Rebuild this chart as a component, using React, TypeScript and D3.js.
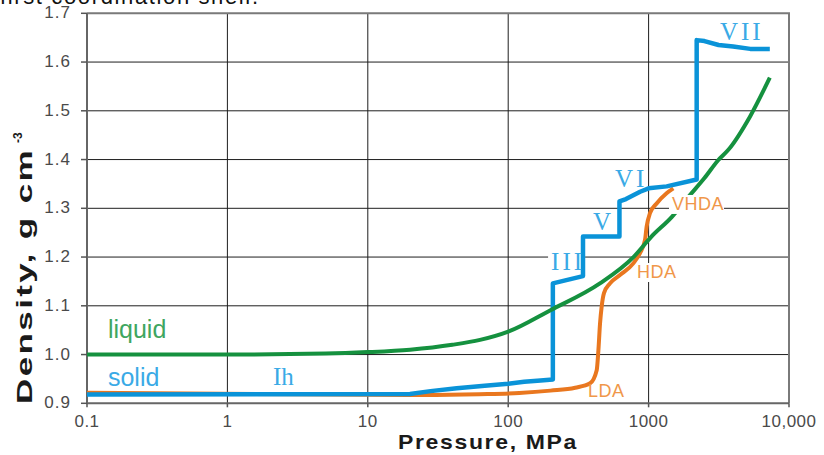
import React, { useEffect, useRef } from 'react';
import * as d3 from 'd3';

// axis ticks
const pressureTicks = [0.1, 1, 10, 100, 1000, 10000];
const pressureTickLabels = ['0.1', '1', '10', '100', '1000', '10,000'];
const densityTicks = [0.9, 1.0, 1.1, 1.2, 1.3, 1.4, 1.5, 1.6, 1.7];
const densityTickLabels = ['0.9', '1.0', '1.1', '1.2', '1.3', '1.4', '1.5', '1.6', '1.7'];

// liquid water
const liquidPressure = [0.1, 1, 5, 10, 20, 40, 63, 100, 200, 450, 780, 1040, 1460, 1970, 2500, 3140, 3700, 5270, 7300];
const liquidDensity = [1.0, 1.0, 1.002, 1.005, 1.01, 1.02, 1.03, 1.047, 1.091, 1.146, 1.2, 1.241, 1.282, 1.327, 1.362, 1.399, 1.42, 1.488, 1.568];

// crystalline ice (Ih, III, V, VI, VII)
const solidPressure = [0.1, 20, 28, 43, 68, 100, 130, 170, 208, 208, 341, 341, 620, 620, 690, 870, 1000, 1345, 2200, 2200, 2500, 3150, 4000, 5300, 7300];
const solidDensity = [0.918, 0.919, 0.925, 0.931, 0.936, 0.94, 0.944, 0.947, 0.949, 1.146, 1.161, 1.242, 1.242, 1.314, 1.319, 1.334, 1.341, 1.345, 1.359, 1.645, 1.643, 1.635, 1.632, 1.627, 1.627];

// amorphous ice (LDA -> HDA -> VHDA)
const amorphousPressure = [0.1, 25, 62, 120, 200, 300, 383, 427, 439, 451, 463, 481, 531, 625, 778, 868, 943, 968, 1023, 1141, 1343, 1500];
const amorphousDensity = [0.9215, 0.917, 0.9185, 0.921, 0.926, 0.932, 0.941, 0.968, 1.009, 1.064, 1.098, 1.126, 1.146, 1.163, 1.187, 1.208, 1.235, 1.262, 1.29, 1.31, 1.331, 1.341];

// annotations: text, anchor pressure, anchor density, style
const labelText = ['liquid', 'solid', 'Ih', 'III', 'V', 'VI', 'VII', 'VHDA', 'HDA', 'LDA'];
const labelPressure = [0.141, 0.141, 2.11, 202, 402, 577, 3220, 1468, 827, 370];
const labelDensity = [1.034, 0.9345, 0.9375, 1.1735, 1.2556, 1.3437, 1.645, 1.2966, 1.157, 0.913];
const labelKind = ['liquid', 'solid', 'roman', 'roman', 'roman', 'roman', 'roman', 'amorph', 'amorph', 'amorph'];

const BLUE = '#0a93d8';
const GREEN = '#15913f';
const ORANGE = '#e9771f';

function App() {
  const ref = useRef<SVGSVGElement>(null);

  useEffect(() => {
    const svg = d3.select(ref.current);
    svg.selectAll('*').remove();

    const x = d3.scaleLog().domain([0.1, 10000]).range([87, 789]);
    const y = d3.scaleLinear().domain([0.9, 1.7]).range([403.3, 13.3]);
    const sans = '"Liberation Sans", Arial, sans-serif';

    // cropped caption from the page above
    svg.append('text')
      .attr('x', 0).attr('y', 4)
      .attr('textLength', 258)
      .style('font-family', sans).style('font-size', '22px').style('fill', '#111')
      .text('first coordination shell.');

    // grid
    const grid = svg.append('g');
    grid.selectAll('line.h')
      .data(densityTicks.slice(1, -1))
      .join('line')
      .attr('x1', x(0.1)).attr('x2', x(10000))
      .attr('y1', d => y(d)).attr('y2', d => y(d))
      .attr('stroke', '#1e1e1e').attr('stroke-width', 1);
    grid.selectAll('line.v')
      .data(pressureTicks.slice(1, -1))
      .join('line')
      .attr('x1', d => x(d)).attr('x2', d => x(d))
      .attr('y1', y(0.9)).attr('y2', y(1.7))
      .attr('stroke', '#1e1e1e').attr('stroke-width', 1);

    // frame
    svg.append('path')
      .attr('d', `M${x(0.1)},${y(1.7)}H${x(10000)}V${y(0.9)}`)
      .attr('fill', 'none').attr('stroke', '#7a7a7a').attr('stroke-width', 2);
    svg.append('path')
      .attr('d', `M${x(0.1)},${y(1.7)}V${y(0.9)}H${x(10000)}`)
      .attr('fill', 'none').attr('stroke', '#666').attr('stroke-width', 2);

    // ticks
    svg.append('g').selectAll('line')
      .data(densityTicks)
      .join('line')
      .attr('x1', x(0.1) - 6).attr('x2', x(0.1))
      .attr('y1', d => y(d)).attr('y2', d => y(d))
      .attr('stroke', '#555').attr('stroke-width', 1.5);
    svg.append('g').selectAll('line')
      .data(pressureTicks)
      .join('line')
      .attr('x1', d => x(d)).attr('x2', d => x(d))
      .attr('y1', y(0.9)).attr('y2', y(0.9) + 4)
      .attr('stroke', '#555').attr('stroke-width', 1.5);

    svg.append('g').selectAll('text')
      .data(densityTicks)
      .join('text')
      .attr('x', x(0.1) - 16).attr('y', d => y(d) + 5)
      .attr('text-anchor', 'end')
      .style('font-family', sans).style('font-size', '17px').style('fill', '#4a4a4a')
      .style('letter-spacing', '1px')
      .text((d, i) => densityTickLabels[i]);
    svg.append('g').selectAll('text')
      .data(pressureTicks)
      .join('text')
      .attr('x', d => x(d)).attr('y', 427)
      .attr('text-anchor', 'middle')
      .style('font-family', sans).style('font-size', '17px').style('fill', '#4a4a4a')
      .style('letter-spacing', '0.5px')
      .text((d, i) => pressureTickLabels[i]);

    // axis titles
    svg.append('text')
      .attr('x', 398).attr('y', 449)
      .attr('textLength', 180).attr('lengthAdjust', 'spacingAndGlyphs')
      .style('font-family', sans).style('font-size', '21px').style('font-weight', 'bold').style('fill', '#1a1a1a')
      .style('letter-spacing', '1.5px')
      .text('Pressure, MPa');
    const yt = svg.append('g').attr('transform', 'translate(32,404) rotate(-90)');
    yt.append('text')
      .attr('x', 0).attr('y', 0)
      .attr('textLength', 256).attr('lengthAdjust', 'spacingAndGlyphs')
      .style('font-family', sans).style('font-size', '22px').style('font-weight', 'bold').style('fill', '#1a1a1a')
      .style('letter-spacing', '1.5px')
      .text('Density, g cm');
    yt.append('text')
      .attr('x', 261).attr('y', -10)
      .style('font-family', sans).style('font-size', '12px').style('font-weight', 'bold').style('fill', '#1a1a1a')
      .text('-3');

    // label layers
    const under = svg.append('g');
    const lines = svg.append('g');
    const over = svg.append('g');
    const texts = svg.append('g');

    const drawLine = (px: number[], py: number[], color: string, w: number, curve: d3.CurveFactory) => {
      const pts: [number, number][] = px.map((p, i) => [p, py[i]]);
      const gen = d3.line<[number, number]>()
        .x(d => x(d[0])).y(d => y(d[1]))
        .curve(curve);
      lines.append('path')
        .attr('d', gen(pts))
        .attr('fill', 'none').attr('stroke', color).attr('stroke-width', w)
        .attr('stroke-linejoin', 'round');
    };
    drawLine(amorphousPressure, amorphousDensity, ORANGE, 4, d3.curveMonotoneX);
    drawLine(solidPressure, solidDensity, BLUE, 4.5, d3.curveLinear);
    drawLine(liquidPressure, liquidDensity, GREEN, 4, d3.curveMonotoneX);

    labelText.forEach((t, i) => {
      const kind = labelKind[i];
      let color = '#3fa65f';
      let font = sans;
      let size = 25;
      let spacing = 0;
      if (kind === 'solid') color = '#3aaae6';
      if (kind === 'roman') { color = '#3aaae6'; font = '"Liberation Serif", "Times New Roman", serif'; size = 25; spacing = 3; }
      if (kind === 'amorph') { color = '#f0974a'; size = 18; spacing = 0.5; }
      if (t === 'Ih') { size = 25; spacing = 0; }
      const node = texts.append('text')
        .attr('x', x(labelPressure[i])).attr('y', y(labelDensity[i]))
        .style('font-family', font).style('font-size', size + 'px').style('fill', color)
        .style('letter-spacing', spacing + 'px')
        .text(t);
      if (t === 'III' || t === 'HDA' || t === 'VHDA') {
        const b = (node.node() as SVGTextElement).getBBox();
        const target = t === 'VHDA' ? over : under;
        target.append('rect')
          .attr('x', b.x - 3).attr('y', b.y + 1)
          .attr('width', b.width + 3).attr('height', b.height - 1)
          .attr('fill', '#fff');
      }
    });
  }, []);

  return (
    <svg ref={ref} width={824} height={455}
      style={{ position: 'absolute', left: 0, top: 0, background: '#fff', display: 'block' }} />
  );
}

export default App;
